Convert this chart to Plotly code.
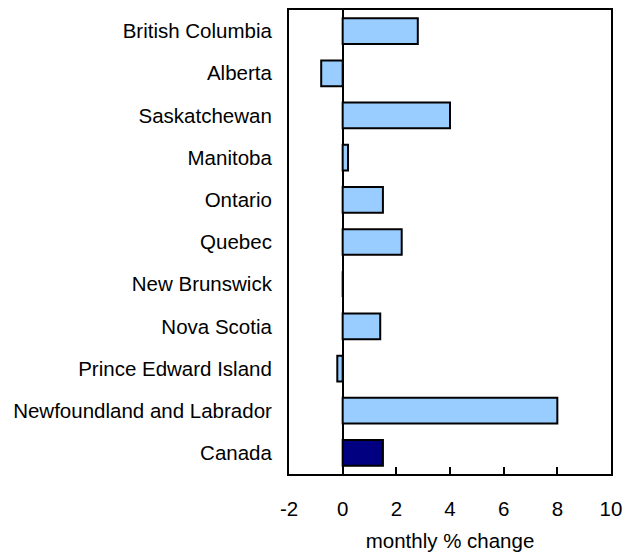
import plotly.graph_objects as go

regions = ["British Columbia", "Alberta", "Saskatchewan", "Manitoba", "Ontario",
           "Quebec", "New Brunswick", "Nova Scotia", "Prince Edward Island",
           "Newfoundland and Labrador", "Canada"]
values = [2.8, -0.8, 4.0, 0.2, 1.5, 2.2, 0.0, 1.4, -0.2, 8.0, 1.5]
colors = ["#99CCFF"] * 10 + ["#000080"]
x_ticks = [-2, 0, 2, 4, 6, 8, 10]

font = dict(family="Liberation Sans, Arial, sans-serif", size=20.5, color="black")

fig = go.Figure(go.Bar(
    x=values, y=regions, orientation="h",
    marker=dict(color=colors, line=dict(color="black", width=2)),
    width=0.61,
))

fig.update_layout(
    width=625, height=552,
    margin=dict(l=289, r=14, t=10, b=78, autoexpand=False),
    paper_bgcolor="white", plot_bgcolor="white",
    font=font, showlegend=False,
)
fig.update_xaxes(
    range=[-2, 10], tickvals=x_ticks, ticktext=[str(v) for v in x_ticks],
    ticks="inside", ticklen=7, tickwidth=2, tickcolor="black",
    showline=True, mirror=True, linecolor="black", linewidth=2,
    showgrid=False, zeroline=True, zerolinecolor="black", zerolinewidth=2,
    ticklabelstandoff=15, automargin=False,
    title=dict(text="monthly % change", font=font, standoff=20),
)
fig.update_yaxes(
    autorange="reversed", ticks="", showgrid=False,
    showline=True, mirror=True, linecolor="black", linewidth=2,
    ticklabelstandoff=11, automargin=False,
)

fig.write_html(
    "out.html",
    config={"displayModeBar": False},
    post_script="document.body.style.margin='0';document.body.style.overflow='hidden';",
)
